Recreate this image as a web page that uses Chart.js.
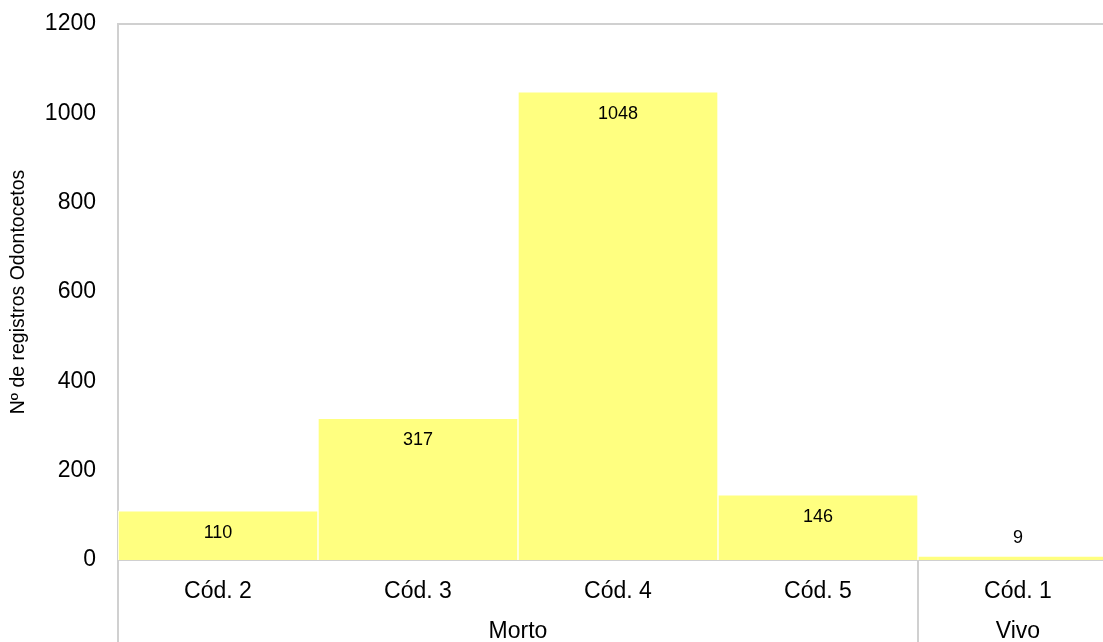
<!DOCTYPE html>
<html>
<head>
<meta charset="utf-8">
<script src="https://cdn.jsdelivr.net/npm/chart.js@4/dist/chart.umd.min.js"></script>
<style>
  html, body { margin: 0; padding: 0; background: #fff; overflow: hidden; }
  #wrap { width: 1120px; height: 642px; }
</style>
</head>
<body>
<div id="wrap"><canvas id="chart" width="1120" height="642"></canvas></div>
<script>
// Registros por código de condição
const categories = ['Cód. 2', 'Cód. 3', 'Cód. 4', 'Cód. 5', 'Cód. 1'];
const registros = [110, 317, 1048, 146, 9];
const groupLabels = ['Morto', 'Vivo'];
const groupOf = [0, 0, 0, 0, 1]; // group index of each category
const yTicks = [0, 200, 400, 600, 800, 1000, 1200];

const FONT = '"Liberation Sans", Arial, sans-serif';
const lineGrey = '#d0d0d0';

// top border, group separators, group names and value labels
const extras = {
    id: 'extras',
    afterDraw(chart) {
        const ctx = chart.ctx;
        const area = chart.chartArea;
        const x = chart.scales.x;
        const bottom = chart.height;

        ctx.save();
        ctx.strokeStyle = lineGrey;
        ctx.lineWidth = 2;
        ctx.beginPath();
        ctx.moveTo(area.left, area.top);
        ctx.lineTo(area.right, area.top);
        ctx.stroke();

        // group separators go from the axis down to the bottom
        const half = (x.getPixelForValue(1) - x.getPixelForValue(0)) / 2;
        let edges = [x.getPixelForValue(0) - half];
        for (let i = 1; i < categories.length; i++) {
            if (groupOf[i] !== groupOf[i - 1]) edges.push(x.getPixelForValue(i) - half);
        }
        edges.push(x.getPixelForValue(categories.length - 1) + half);
        ctx.beginPath();
        edges.forEach(px => {
            ctx.moveTo(px, area.bottom);
            ctx.lineTo(px, bottom);
        });
        ctx.stroke();

        ctx.fillStyle = '#000';
        ctx.font = '23px ' + FONT;
        ctx.textAlign = 'center';
        ctx.textBaseline = 'middle';
        for (let g = 0; g < groupLabels.length; g++) {
            ctx.fillText(groupLabels[g], (edges[g] + edges[g + 1]) / 2, area.bottom + 72);
        }

        // value labels inside the top of each bar, above it when too short
        ctx.font = '18px ' + FONT;
        const meta = chart.getDatasetMeta(0);
        meta.data.forEach((bar, i) => {
            const h = area.bottom - bar.y;
            const ly = h > 40 ? bar.y + 22 : bar.y - 18;
            ctx.fillText(String(registros[i]), bar.x, ly);
        });
        ctx.restore();
    }
};

new Chart(document.getElementById('chart'), {
    type: 'bar',
    data: {
        labels: categories,
        datasets: [{
            data: registros,
            backgroundColor: 'rgb(255,255,128)',
            borderColor: '#ffffff',
            borderWidth: 1,
            barPercentage: 1,
            categoryPercentage: 1
        }]
    },
    options: {
        responsive: false,
        animation: false,
        layout: { padding: { top: 24, right: 2, left: 0, bottom: 0 } },
        plugins: {
            legend: { display: false },
            tooltip: { enabled: false }
        },
        scales: {
            x: {
                grid: { display: false },
                border: { display: true, color: lineGrey, width: 2 },
                ticks: { color: '#000', font: { family: FONT, size: 23 }, padding: 10 },
                afterFit(scale) { scale.height = 82; }
            },
            y: {
                min: 0,
                max: 1200,
                afterBuildTicks(scale) { scale.ticks = yTicks.map(v => ({ value: v })); },
                grid: { display: false, drawTicks: false },
                border: { display: true, color: lineGrey, width: 2 },
                ticks: {
                    color: '#000',
                    font: { family: FONT, size: 23 },
                    padding: 22,
                    callback: v => String(v)
                },
                title: {
                    display: true,
                    text: 'Nº de registros Odontocetos',
                    color: '#000',
                    font: { family: FONT, size: 19.5 },
                    padding: { top: 7, bottom: 0 }
                },
                afterFit(scale) {
                    scale.width = 118;
                    scale.paddingTop = 0;
                    scale.paddingBottom = 0;
                }
            }
        }
    },
    plugins: [extras]
});
</script>
</body>
</html>
